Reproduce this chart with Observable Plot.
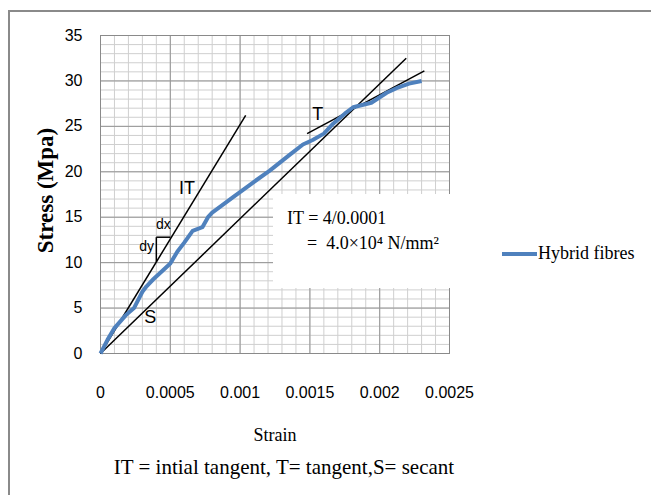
<!DOCTYPE html>
<html>
<head>
<meta charset="utf-8">
<script src="https://cdn.jsdelivr.net/npm/d3@7"></script>
<script src="https://cdn.jsdelivr.net/npm/@observablehq/plot@0.6"></script>
<style>
  html, body { margin: 0; padding: 0; background: #fff; overflow: hidden; }
  #wrap { position: relative; width: 651px; height: 495px; overflow: hidden; }
  #chart svg { display: block; }
  .border { position: absolute; left: 8px; top: 10px; width: 700px; height: 600px; border: 2px solid #8a8a8a; box-sizing: border-box; pointer-events: none; }
  .box { position: absolute; left: 273px; top: 194px; width: 200px; height: 94px; background: #fff; }
  .serif { font-family: "Liberation Serif", "Times New Roman", serif; color: #000; white-space: nowrap; }
  .caption { position: absolute; left: 80px; top: 450px; width: 408px; height: 35px; line-height: 35px; text-align: center; font-size: 21px; }
  .legend { position: absolute; left: 502px; top: 241px; height: 24px; line-height: 24px; font-size: 18px; }
  .swatch { display: inline-block; width: 35px; height: 4px; background: #4F81BD; vertical-align: middle; margin-right: 1px; position: relative; top: -1px; }
</style>
</head>
<body>
<div id="wrap">
  <div id="chart"></div>
</div>
<script>
// ---- data ----
const strain = [0, 0.00005, 0.0001, 0.00018, 0.00024, 0.0003, 0.00033, 0.00038, 0.00045, 0.0005, 0.00055, 0.0006, 0.00066, 0.00073, 0.00077, 0.0008, 0.00095, 0.0011, 0.00121, 0.00135, 0.00145, 0.00152, 0.0016, 0.00166, 0.00175, 0.00181, 0.00194, 0.00205, 0.00212, 0.00221, 0.0023];
const stress = [0, 1.5, 2.8, 4.2, 5.0, 6.8, 7.4, 8.2, 9.2, 9.9, 11.2, 12.2, 13.5, 13.9, 15.0, 15.5, 17.2, 18.9, 20.1, 21.8, 23.0, 23.5, 24.2, 25.2, 26.4, 27.1, 27.6, 28.7, 29.2, 29.7, 30.0];
const seriesName = "Hybrid fibres";

// construction lines: [x1, y1, x2, y2]
const lineNames = ["IT", "T", "S"];
const lineX1 = [0, 0.00148, 0];
const lineY1 = [0, 24.2, 0];
const lineX2 = [0.00104, 0.00232, 0.00219];
const lineY2 = [26.2, 31.1, 32.5];

// dx / dy triangle legs
const legX1 = [0.0004, 0.0004];
const legY1 = [10.1, 12.8];
const legX2 = [0.0004, 0.0005];
const legY2 = [12.8, 12.8];

// in-plot labels
const labelText = ["IT", "T", "S", "dx", "dy"];
const labelX = [0.00062, 0.001557, 0.000357, 0.00045, 0.00033];
const labelY = [18.2, 26.3, 4.0, 14.2, 11.8];
const labelSize = [18, 18, 18, 14, 14];

const xTicks = [0, 0.0005, 0.001, 0.0015, 0.002, 0.0025];
const xTickLabels = ["0", "0.0005", "0.001", "0.0015", "0.002", "0.0025"];
const yTicks = [0, 5, 10, 15, 20, 25, 30, 35];
const xMinor = d3.range(0, 26).map(i => i / 10000);
const yMinor = d3.range(0, 36);

const xTitle = "Strain";
const yTitle = "Stress (Mpa)";
const captionText = "IT = intial tangent, T= tangent,S= secant";
const boxLine1 = "IT = 4/0.0001";
const boxLine2 = "=  4.0×10⁴ N/mm²";

// ---- build tables ----
const curve = strain.map((s, i) => ({x: s, y: stress[i]}));
const lines = lineNames.map((n, i) => ({n, x1: lineX1[i], y1: lineY1[i], x2: lineX2[i], y2: lineY2[i]}));
const legs = legX1.map((v, i) => ({x1: v, y1: legY1[i], x2: legX2[i], y2: legY2[i]}));
const labels = labelText.map((t, i) => ({t, x: labelX[i], y: labelY[i], s: labelSize[i]}));

const plot = Plot.plot({
  width: 651,
  height: 450,
  marginLeft: 100,
  marginRight: 202,
  marginTop: 35,
  marginBottom: 97,
  style: {fontFamily: "'Liberation Sans', Arial, sans-serif", fontSize: "16px", background: "transparent", color: "#000"},
  x: {domain: [0, 0.0025]},
  y: {domain: [0, 35]},
  marks: [
    Plot.ruleX(xMinor, {stroke: "#cfcfcf", strokeWidth: 1}),
    Plot.ruleY(yMinor, {stroke: "#cfcfcf", strokeWidth: 1}),
    Plot.ruleX(xTicks, {stroke: "#959595", strokeWidth: 1}),
    Plot.ruleY(yTicks, {stroke: "#959595", strokeWidth: 1}),
    Plot.frame({stroke: "#8a8a8a", strokeWidth: 1}),
    Plot.axisX({ticks: xTicks, tickSize: 0, tickPadding: 33, tickFormat: d => xTickLabels[xTicks.indexOf(d)], label: null, fontSize: 16}),
    Plot.axisY({ticks: yTicks, tickSize: 0, tickPadding: 18, label: null, fontSize: 16}),
    Plot.link(lines, {x1: "x1", y1: "y1", x2: "x2", y2: "y2", stroke: "#000", strokeWidth: 1.5}),
    Plot.link(legs, {x1: "x1", y1: "y1", x2: "x2", y2: "y2", stroke: "#000", strokeWidth: 1.5}),
    Plot.line(curve, {x: "x", y: "y", stroke: "#4F81BD", strokeWidth: 4, strokeLinejoin: "round", strokeLinecap: "butt"}),
    Plot.text(labels.filter(d => d.s === 18), {x: "x", y: "y", text: "t", fontSize: 18, fill: "#000"}),
    Plot.text(labels.filter(d => d.s === 14), {x: "x", y: "y", text: "t", fontSize: 14, fill: "#000"}),
    Plot.text([xTitle], {frameAnchor: "bottom", text: d => d, dy: 82, lineAnchor: "middle", textAnchor: "middle", fontSize: 18, fontFamily: "'Liberation Serif', serif", fill: "#000"}),
    Plot.text([yTitle], {frameAnchor: "left", text: d => d, dx: -55, dy: -4, rotate: -90, textAnchor: "middle", lineAnchor: "middle", fontSize: 23, fontWeight: "bold", fontFamily: "'Liberation Serif', serif", fill: "#000"})
  ]
});
document.getElementById("chart").appendChild(plot);

const wrap = document.getElementById("wrap");
const box = document.createElement("div");
box.className = "box";
wrap.appendChild(box);
const t1 = document.createElement("div");
t1.className = "serif";
t1.style.cssText = "position:absolute;left:287px;top:206px;height:24px;line-height:24px;font-size:18px;";
t1.textContent = boxLine1;
wrap.appendChild(t1);
const t2 = document.createElement("div");
t2.className = "serif";
t2.style.cssText = "position:absolute;left:307px;top:231px;height:24px;line-height:24px;font-size:18px;white-space:pre;";
t2.textContent = boxLine2;
wrap.appendChild(t2);

const legend = document.createElement("div");
legend.className = "legend serif";
legend.innerHTML = '<span class="swatch"></span>';
legend.appendChild(document.createTextNode(seriesName));
wrap.appendChild(legend);

const cap = document.createElement("div");
cap.className = "caption serif";
cap.textContent = captionText;
wrap.appendChild(cap);

const border = document.createElement("div");
border.className = "border";
wrap.appendChild(border);
</script>
</body>
</html>
